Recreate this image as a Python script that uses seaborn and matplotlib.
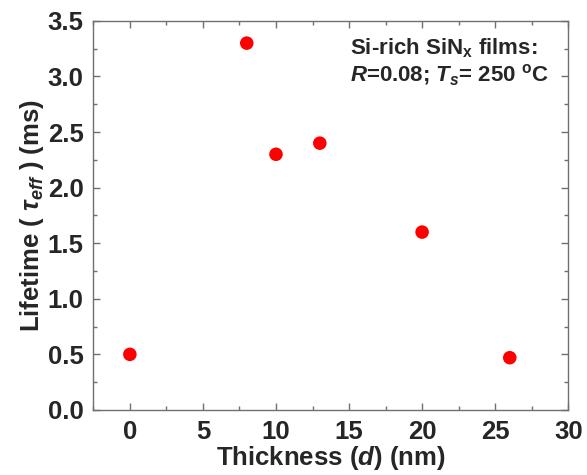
import matplotlib
matplotlib.use("Agg")
import matplotlib.pyplot as plt
from matplotlib.ticker import MultipleLocator, FormatStrFormatter
import pandas as pd
import seaborn as sns

# Film thickness (nm) and effective carrier lifetime (ms)
thickness_nm = [0, 8, 10, 13, 20, 26]
lifetime_ms = [0.50, 3.30, 2.30, 2.40, 1.60, 0.47]

df = pd.DataFrame({"d": thickness_nm, "tau": lifetime_ms})

sns.set_style("ticks")
plt.rcParams["font.family"] = ["Liberation Sans", "DejaVu Sans"]
plt.rcParams["font.weight"] = "bold"
plt.rcParams["mathtext.fontset"] = "custom"
plt.rcParams["mathtext.rm"] = "Liberation Sans:bold"
plt.rcParams["mathtext.it"] = "Liberation Sans:italic:bold"
plt.rcParams["mathtext.bf"] = "Liberation Sans:bold"

fig = plt.figure(figsize=(5.87, 4.75), dpi=100)
ax = fig.add_axes([0.159, 0.137, 0.809, 0.819])

sns.scatterplot(data=df, x="d", y="tau", ax=ax, color="#ff0000",
                s=95, edgecolor="none", linewidth=0, legend=False)

ax.set_xlim(-2.5, 30)
ax.set_ylim(0, 3.5)
ax.xaxis.set_major_locator(MultipleLocator(5))
ax.xaxis.set_minor_locator(MultipleLocator(2.5))
ax.yaxis.set_major_locator(MultipleLocator(0.5))
ax.yaxis.set_minor_locator(MultipleLocator(0.25))
ax.yaxis.set_major_formatter(FormatStrFormatter("%.1f"))

for sp in ax.spines.values():
    sp.set_color("#707070")
    sp.set_linewidth(1.0)
    sp.set_visible(True)

ax.tick_params(which="both", direction="in", top=True, right=True,
               color="#707070", width=1.0)
ax.tick_params(which="major", length=5, labelsize=18.5)
ax.tick_params(axis="y", which="major", pad=7)
ax.tick_params(axis="x", which="major", pad=7)
ax.tick_params(which="minor", length=3)
for lab in ax.get_xticklabels() + ax.get_yticklabels():
    lab.set_fontweight("bold")

ax.set_xlabel(r"Thickness ($d$) (nm)", fontsize=18.5, fontweight="bold", labelpad=0)
ax.set_ylabel(r"Lifetime ( $\tau_{eff}$ ) (ms)", fontsize=18.5, fontweight="bold", labelpad=1)

ax.text(0.541, 0.913, r"Si-rich SiN$_{\mathrm{x}}$ films:", transform=ax.transAxes,
        fontsize=16, fontweight="bold", ha="left", va="baseline")
ax.text(0.541, 0.843, r"$R$=0.08; $T_{s}$= 250 $^{\mathrm{o}}$C", transform=ax.transAxes,
        fontsize=16, fontweight="bold", ha="left", va="baseline")

fig.savefig("out.png", dpi=100, facecolor="white")
